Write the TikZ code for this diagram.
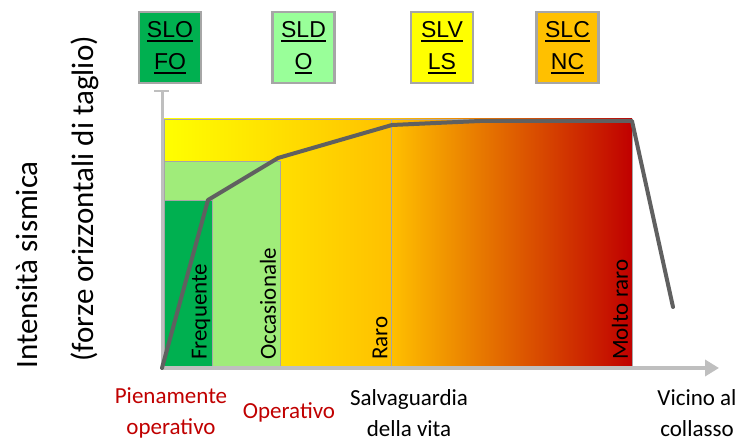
\documentclass[tikz,border=0pt]{standalone}
\usepackage{fontspec}
\setmainfont{Carlito}
\newfontfamily\arialfont{Liberation Sans}
\usetikzlibrary{arrows.meta}

\definecolor{verdescuro}{HTML}{00B050}
\definecolor{verdebox}{HTML}{99FF99}
\definecolor{verdechiaro}{HTML}{A0EC7A}
\definecolor{giallo}{HTML}{FFFF00}
\definecolor{arancio}{HTML}{FFC000}
\definecolor{aranciocupo}{HTML}{E67800}
\definecolor{rosso}{HTML}{C00000}
\definecolor{rossotesto}{HTML}{C00000}
\definecolor{grigioasse}{HTML}{BFBFBF}
\definecolor{grigiobordo}{HTML}{A6A6A6}
\definecolor{grigiocurva}{HTML}{606060}

% sottolineatura spessa per le sigle
\newcommand\sotto[1]{\setbox0\hbox{#1}\rlap{\rule[-4.5pt]{\wd0}{1.8pt}}\box0}

\tikzset{
  stato/.style={draw=grigiobordo, line width=2.5pt, minimum width=62pt, minimum height=71pt,
    inner sep=0pt, align=center, font=\arialfont\fontsize{23}{32}\selectfont},
  evento/.style={rotate=90, anchor=west, inner sep=0pt, font=\fontsize{23}{28}\selectfont},
  livello/.style={align=center, inner sep=0pt, font=\fontsize{23}{31}\selectfont},
  bordo/.style={draw=grigiobordo, line width=0.8pt}
}

\begin{document}
\begin{tikzpicture}[x=1pt,y=1pt]
  \useasboundingbox (0,0) rectangle (739,441);

  % stati limite
  \node[stato, fill=verdescuro] (slo) at (170,393.5) {\sotto{SLO}\\\sotto{FO}};
  \node[stato, fill=verdebox] (sld) at (303.5,393.5) {\sotto{SLD}\\\sotto{O}};
  \node[stato, fill=giallo] (slv) at (442,393.5) {\sotto{SLV}\\\sotto{LS}};
  \node[stato, fill=arancio] (slc) at (567.5,393.5) {\sotto{SLC}\\\sotto{NC}};

  % fasce
  \shade[left color=giallo, right color=arancio] (164,73) rectangle (391,322);
  \shade[left color=arancio, middle color=aranciocupo, right color=rosso] (391,73) rectangle (632,322);
  \draw[bordo] (164,73) rectangle (632,322);
  \draw[bordo] (391,73) -- (391,322);
  \filldraw[bordo, fill=verdechiaro] (164,73) rectangle (280,280);
  \filldraw[bordo, fill=verdescuro] (164,73) rectangle (212,241);

  % assi
  \coordinate (o) at (162,73);
  \coordinate (ytop) at (162,350);
  \coordinate (xend) at (719,73);
  \draw[grigioasse, line width=3pt] (o) -- (ytop);
  \draw[grigioasse, line width=2pt] (154,350) -- (169,350);
  \draw[grigioasse, line width=4pt, -{Triangle[length=14pt,width=16pt]}] (o) -- (xend);

  % curva
  \coordinate (c1) at (208,241);
  \coordinate (c2) at (278,283);
  \coordinate (c3) at (392,316);
  \coordinate (c4) at (480,320);
  \coordinate (c5) at (632,320);
  \coordinate (c6) at (673,134);
  \draw[grigiocurva, line width=4pt, line join=round, line cap=round]
    (o) -- (c1) -- (c2) -- (c3) -- (c4) -- (c5) -- (c6);

  % eventi
  \node[evento] (freq) at (201,81) {Frequente};
  \node[evento] (occ) at (268,81) {Occasionale};
  \node[evento] (raro) at (380,81) {Raro};
  \node[evento] (mraro) at (620,81) {Molto raro};

  % livelli
  \node[livello, text=rossotesto] (pien) at (171,28) {Pienamente\\operativo};
  \node[livello, text=rossotesto] (oper) at (289,29) {Operativo};
  \node[livello] (salv) at (409,28) {Salvaguardia\\della vita};
  \node[livello] (vic) at (697,28) {Vicino al\\collasso};

  % asse y
  \node[rotate=90, font=\fontsize{31}{36}\selectfont] (int) at (27,176) {Intensità sismica};
  \node[rotate=90, font=\fontsize{31}{36}\selectfont] (forze) at (85,242) {(forze orizzontali di taglio)};
\end{tikzpicture}
\end{document}
